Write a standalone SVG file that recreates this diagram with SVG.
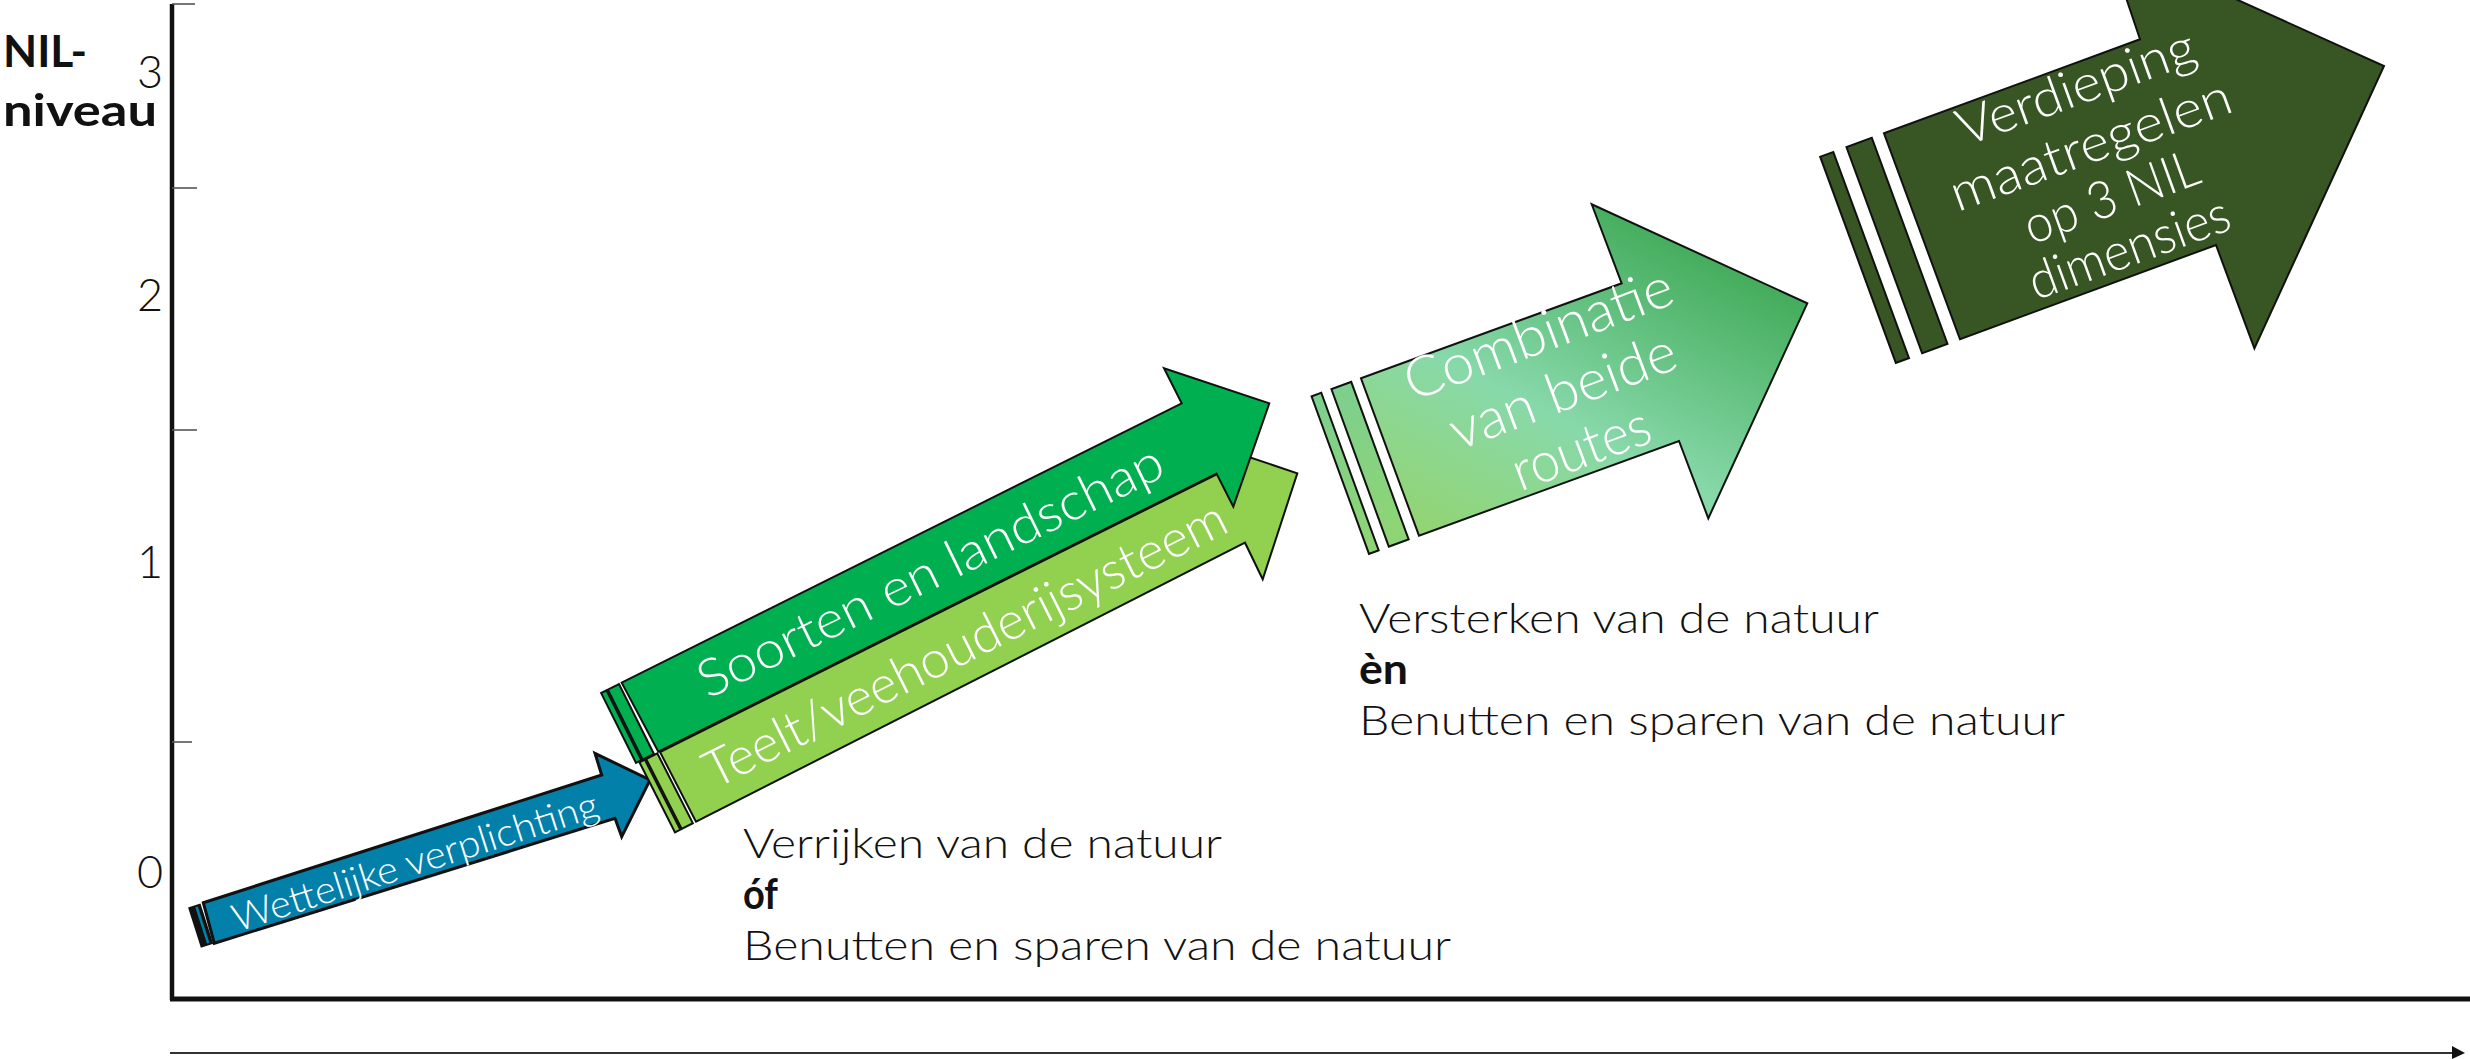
<svg xmlns="http://www.w3.org/2000/svg" width="2470" height="1059" viewBox="0 0 2470 1059">
<style>
  text { font-family: Lato, "Open Sans", "Liberation Sans", sans-serif; }
  .lbl { font-size: 42px; fill: #111; font-weight: 300; }
  .bold { font-weight: 700; }
  .axnum { font-size: 45px; fill: #111; font-weight: 300; text-anchor: end; }
  .ytitle { font-size: 44px; fill: #111; font-weight: 700; }
  .wt { fill: #fff; text-anchor: middle; font-weight: 300; }
  .tick { stroke: #555; stroke-width: 1.6; }
  .ol { stroke: #111; stroke-width: 2; stroke-linejoin: miter; }
</style>
<defs>
  <linearGradient id="gComb" gradientUnits="userSpaceOnUse" x1="1420" y1="545" x2="1600" y2="200">
    <stop offset="0" stop-color="#93d46e"/>
    <stop offset="0.45" stop-color="#88d9aa"/>
    <stop offset="1" stop-color="#45ad5d"/>
  </linearGradient>
  <linearGradient id="gStrip" x1="0" y1="0" x2="0" y2="1">
    <stop offset="0" stop-color="#7dcf8e"/>
    <stop offset="1" stop-color="#8fd573"/>
  </linearGradient>
</defs>

<g id="axes">
  <line x1="172" y1="4" x2="172" y2="1000" stroke="#111" stroke-width="4.5"/>
  <line x1="170" y1="999" x2="2470" y2="999" stroke="#111" stroke-width="5"/>
  <line class="tick" x1="172" y1="4" x2="195" y2="4"/>
  <line class="tick" x1="172" y1="188" x2="197" y2="188"/>
  <line class="tick" x1="172" y1="430" x2="197" y2="430"/>
  <line class="tick" x1="172" y1="742" x2="192" y2="742"/>
  <line x1="170" y1="1053" x2="2454" y2="1053" stroke="#333" stroke-width="2.2"/>
  <polygon points="2452,1046 2465,1053 2452,1059" fill="#111"/>
</g>

<g id="y-labels">
  <text class="ytitle" x="3" y="67" textLength="84" lengthAdjust="spacingAndGlyphs">NIL-</text>
  <text class="ytitle" x="3" y="126" textLength="154" lengthAdjust="spacingAndGlyphs">niveau</text>
  <text class="axnum" x="163" y="88">3</text>
  <text class="axnum" x="163" y="311">2</text>
  <text class="axnum" x="163" y="578">1</text>
  <text class="axnum" x="163" y="888">0</text>
</g>

<g id="node-wettelijk">
  <g transform="translate(203.3,902.7) rotate(-17.76)">
    <rect x="-16" y="0" width="13" height="42.1" fill="#111"/>
    <rect x="-9" y="2" width="2.6" height="38" fill="#0380aa"/>
  </g>
  <polygon points="203.3,902.7 601.7,775 595,753.3 650,780 621.7,836.7 615,818.3 214.3,943.3" fill="#0380aa" stroke="#111" stroke-width="3" stroke-linejoin="miter"/>
  <text class="wt" font-size="38" transform="translate(419,874) rotate(-17.7)" textLength="382" lengthAdjust="spacingAndGlyphs">Wettelijke verplichting</text>
</g>

<g id="node-teelt">
  <g transform="translate(660,752) rotate(-26.94)">
    <rect class="ol" x="-23" y="0" width="6" height="78.4" fill="#92d050" stroke-width="1.5"/>
    <rect class="ol" x="-15.5" y="0" width="12.5" height="78.4" fill="#92d050" stroke-width="1.5"/>
  </g>
  <polygon class="ol" points="660,752 1216.7,474.3 1192,438 1297.3,473.3 1262.7,579.3 1245,542.7 696,821.7" fill="#92d050"/>
</g>

<g id="node-soorten">
  <g transform="translate(621.7,682.7) rotate(-26.52)">
    <rect class="ol" x="-23" y="0" width="6" height="78.1" fill="#00b050" stroke-width="1.5"/>
    <rect class="ol" x="-15.5" y="0" width="12.5" height="78.1" fill="#00b050" stroke-width="1.5"/>
  </g>
  <polygon class="ol" points="621.7,682.7 1181.7,403.3 1164,368.3 1269.3,403.3 1233.3,506.7 1216.5,473.5 658.3,751.7" fill="#00b050"/>
  <text class="wt" font-size="52" transform="translate(938,587) rotate(-26)" textLength="512" lengthAdjust="spacingAndGlyphs">Soorten en landschap</text>
</g>

<g id="node-teelt-label">
  <text class="wt" font-size="52" transform="translate(973,660) rotate(-26.6)" textLength="578" lengthAdjust="spacingAndGlyphs">Teelt/veehouderijsysteem</text>
</g>

<g id="node-combinatie">
  <g transform="translate(1361,378.3) rotate(-20.02)">
    <rect class="ol" x="-52.6" y="0" width="10.3" height="167.7" fill="url(#gStrip)"/>
    <rect class="ol" x="-31.5" y="0" width="21.1" height="167.7" fill="url(#gStrip)"/>
  </g>
  <polygon class="ol" points="1361,378.3 1621.7,283.3 1591.7,204.3 1807.3,303.3 1708.3,518.3 1679,441 1419,535.7" fill="url(#gComb)"/>
  <g transform="translate(1545,352) rotate(-20.5)">
    <text class="wt" font-size="56" x="0" y="0" textLength="283" lengthAdjust="spacingAndGlyphs">Combinatie</text>
    <text class="wt" font-size="56" x="3" y="62" textLength="238" lengthAdjust="spacingAndGlyphs">van beide</text>
    <text class="wt" font-size="56" x="0" y="122" textLength="144" lengthAdjust="spacingAndGlyphs">routes</text>
  </g>
</g>

<g id="node-verdieping">
  <g transform="translate(1884,133.3) rotate(-20.16)">
    <rect class="ol" x="-68" y="0" width="14" height="219.6" fill="#375623"/>
    <rect class="ol" x="-40" y="0" width="27" height="219.6" fill="#375623"/>
  </g>
  <polygon class="ol" points="1884,133.3 2140,39.3 2107,-59 2384,66 2254.4,348.3 2216,245 1960,339.3" fill="#375623"/>
  <g transform="translate(2082,104) rotate(-20)">
    <text class="wt" font-size="52" x="0" y="0" textLength="250" lengthAdjust="spacingAndGlyphs">Verdieping</text>
    <text class="wt" font-size="52" x="-6" y="59" textLength="296" lengthAdjust="spacingAndGlyphs">maatregelen</text>
    <text class="wt" font-size="52" x="-4" y="115" textLength="183" lengthAdjust="spacingAndGlyphs">op 3 NIL</text>
    <text class="wt" font-size="52" x="-5" y="169" textLength="211" lengthAdjust="spacingAndGlyphs">dimensies</text>
  </g>
</g>

<g id="node-text-verrijken">
  <text class="lbl" x="743" y="858" textLength="479" lengthAdjust="spacingAndGlyphs">Verrijken van de natuur</text>
  <text class="lbl bold" x="743" y="909" textLength="35" lengthAdjust="spacingAndGlyphs">óf</text>
  <text class="lbl" x="743" y="960" textLength="708" lengthAdjust="spacingAndGlyphs">Benutten en sparen van de natuur</text>
</g>

<g id="node-text-versterken">
  <text class="lbl" x="1359" y="633" textLength="520" lengthAdjust="spacingAndGlyphs">Versterken van de natuur</text>
  <text class="lbl bold" x="1359" y="684" textLength="49" lengthAdjust="spacingAndGlyphs">èn</text>
  <text class="lbl" x="1359" y="735" textLength="706" lengthAdjust="spacingAndGlyphs">Benutten en sparen van de natuur</text>
</g>

<g id="connectors"></g>
</svg>
